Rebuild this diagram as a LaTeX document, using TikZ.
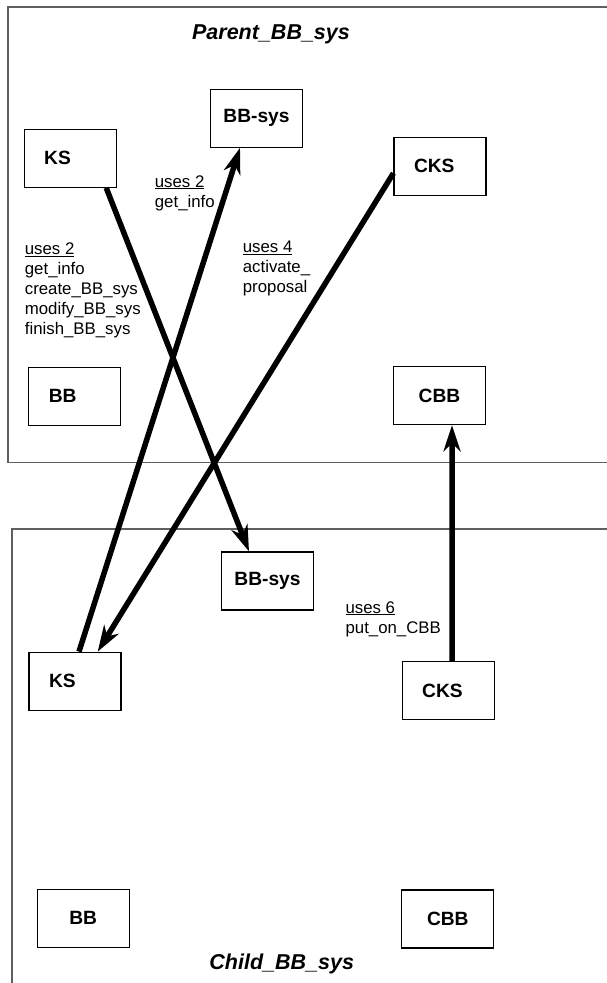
\documentclass[tikz,border=0pt]{standalone}
\usepackage{fontspec}
\setmainfont{Liberation Sans}
\usetikzlibrary{arrows.meta,positioning}
\definecolor{fg}{RGB}{0,0,0}
\definecolor{frm}{RGB}{95,95,95}
\tikzset{
  every picture/.style={fg, line width=1.2pt, line join=miter,
    >={Stealth[length=26pt,width=17pt,inset=8pt]}},
  % Rahmen der beiden BB-Systeme
  frame/.style={frm, line width=1.6pt},
  title/.style={font=\fontsize{21.5}{24}\selectfont\bfseries\itshape, anchor=base},
  % Kästen: zentriert bzw. linksbündig
  box/.style={draw, minimum width=92pt, minimum height=58pt, inner sep=0pt,
    font=\fontsize{19.2}{22}\selectfont\bfseries},
  boxl/.style={box, text width=52pt, inner xsep=20pt, align=left},
  % Aufrufe
  use/.style={line width=5.5pt, ->},
  lbl/.style={font=\fontsize{16.8}{20}\selectfont, anchor=north west,
    align=left, inner sep=0pt},
}
\begin{document}
\begin{tikzpicture}[x=1pt, y=-1pt]
  \useasboundingbox (0,0) rectangle (607,983);
  % Rahmen
  \draw[frame] (607,7) -- (8,7) -- (8,462.5) -- (607,462.5);
  \draw[frame] (607,529) -- (12,529) -- (12,983);
  \node[title] (tparent) at (271,39) {Parent\_BB\_sys};
  \node[title] (tchild) at (281.7,969) {Child\_BB\_sys};
  % Parent_BB_sys
  \node[boxl] (ksP) at (70.2,158.2) {KS};
  \node[box] (bbsysP) at (256.5,118.2) {BB-sys};
  \node[boxl] (cksP) at (440,166.2) {CKS};
  \node[boxl] (bbP) at (74.8,396.3) {BB};
  \node[box] (cbbP) at (439.5,395.7) {CBB};
  % Child_BB_sys
  \node[box] (bbsysC) at (267.5,581) {BB-sys};
  \node[boxl] (ksC) at (75,681.2) {KS};
  \node[boxl] (cksC) at (448.2,690.5) {CKS};
  \node[box] (bbC) at (83.2,918.3) {BB};
  \node[box] (cbbC) at (447.8,919) {CBB};
  % Aufrufe
  \draw[use] ([xshift=36pt]ksP.south) -- ([xshift=-18.5pt]bbsysC.north);
  \draw[use] ([xshift=4pt]ksC.north) -- ([xshift=-16.5pt]bbsysP.south);
  \draw[use] ([yshift=-7pt]cksP.west) -- ([xshift=22.7pt]ksC.north);
  \draw[use] ([xshift=4pt]cksC.north) -- ([xshift=12.5pt]cbbP.south);
  % Beschriftung
  \node[lbl] (l1) at (154.3,174.7) {\underline{uses 2}\\get\_info};
  \node[lbl] (l2) at (24.3,242) {\underline{uses 2}\\get\_info\\create\_BB\_sys\\modify\_BB\_sys\\finish\_BB\_sys};
  \node[lbl] (l3) at (242.3,240.7) {\underline{uses 4}\\activate\_\\proposal};
  \node[lbl] (l4) at (345,600.7) {\underline{uses 6}\\put\_on\_CBB};
\end{tikzpicture}
\end{document}
